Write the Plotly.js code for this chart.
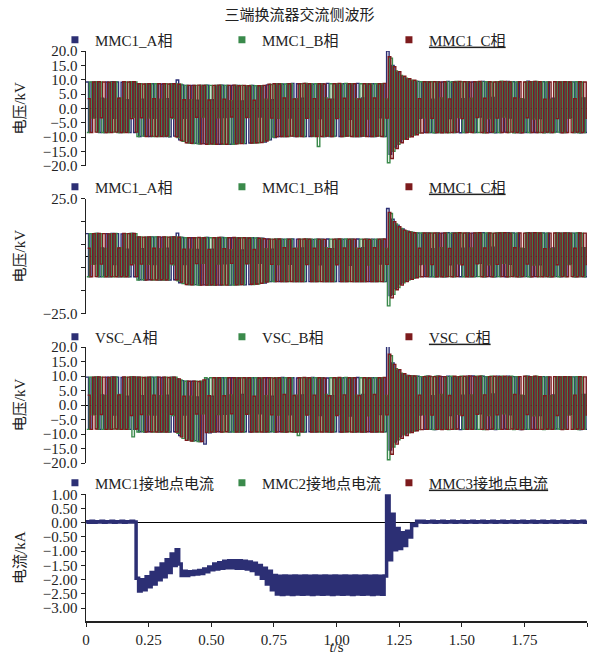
<!DOCTYPE html>
<html>
<head>
<meta charset="utf-8">
<script src="https://cdn.plot.ly/plotly-3.0.1.min.js"></script>
<style>html,body{margin:0;padding:0;background:#fff;}#chart{width:599px;height:655px;}</style>
</head>
<body>
<div id="chart"></div>
<script>
// ---------------- data ----------------
const chartTitle = '三端换流器交流侧波形';
const voltTitle = '电压/kV';
const currTitle = '电流/kA';
const timeTitle = '<i>t</i>/s';

const namesP1 = ['MMC1_A相', 'MMC1_B相', 'MMC1_C相'];
const namesP2 = ['MMC1_A相', 'MMC1_B相', 'MMC1_C相'];
const namesP3 = ['VSC_A相', 'VSC_B相', 'VSC_C相'];
const namesP4 = ['MMC1接地点电流', 'MMC2接地点电流', 'MMC3接地点电流'];

const xTickVals = [0, 0.25, 0.5, 0.75, 1.0, 1.25, 1.5, 1.75, 2.0];
const xTickText = ['0', '0.25', '0.50', '0.75', '1.00', '1.25', '1.50', '1.75', '2.00'];
const vTickVals20 = [-20, -15, -10, -5, 0, 5, 10, 15, 20];
const vTickText20 = ['−20.0', '−15.0', '−10.0', '−5.0', '0.0', '5.0', '10.0', '15.0', '20.0'];
const vTickVals25 = [-25, -15, -5, 5, 15, 25];
const vTickText25 = ['−25.0', '', '', '', '', '25.0'];
const iTickVals = [-3, -2.5, -2, -1.5, -1, -0.5, 0, 0.5, 1];
const iTickText = ['−3.00', '−2.50', '−2.00', '−1.50', '−1.00', '−0.50', '0.00', '0.50', '1.00'];

// sampled phase voltages (kV), one value every 0.01 s, phases staggered
const p1A = [9.2,-8.3,9.1,-3.2,9.3,-8.4,3.5,-8.4,9.2,-8.3,
  9.3,-3.5,9.2,-8.4,9.1,-8.3,3.0,-8.4,9.3,-8.4,
  8.6,-9.8,3.2,-9.7,8.5,-9.8,8.6,-3.5,8.6,-9.7,
  8.5,-9.8,3.4,-9.9,8.6,-9.7,9.9,-11.0,8.2,-3.5,
  8.0,-12.0,8.0,-12.2,2.8,-12.4,8.0,-12.3,8.1,-12.4,
  3.0,-12.5,8.0,-12.5,8.1,-3.2,8.0,-12.5,8.0,-12.4,
  8.0,-12.2,2.6,-12.3,7.9,-12.1,8.0,-12.0,7.9,-3.0,
  7.9,-11.8,8.2,-11.0,3.0,-10.2,8.6,-9.8,8.5,-9.8,
  8.6,-3.4,8.7,-9.8,8.6,-9.7,3.5,-9.8,8.6,-9.8,
  8.5,-9.7,8.6,-3.6,8.6,-9.8,8.7,-9.8,3.2,-9.7,
  8.6,-9.8,8.6,-9.7,8.5,-3.8,8.6,-9.8,8.7,-9.8,
  3.6,-9.7,8.6,-9.8,8.6,-9.8,8.5,-3.3,8.6,-9.8,
  20.0,-16.0,15.0,-13.5,12.5,-11.5,11.0,-10.5,10.2,-9.6,
  9.6,-9.0,9.4,-3.5,9.3,-8.4,9.3,-8.4,3.2,-8.5,
  9.3,-8.4,9.2,-8.4,9.4,-3.6,9.3,-8.4,9.2,-8.5,
  3.4,-8.4,9.3,-8.3,9.2,-8.4,9.3,-3.0,9.4,-8.4,
  9.2,-8.4,3.8,-8.5,9.3,-8.4,9.2,-8.3,9.4,-3.4,
  9.3,-8.4,9.2,-8.5,3.2,-8.4,9.5,-8.4,9.3,-8.4,
  9.2,-3.6,9.3,-8.4,9.2,-8.4,3.5,-8.3,9.3,-8.4,
  9.2,-8.4,9.3,-3.2,9.2,-8.4,9.3,-8.5,3.6,-8.4,
  9.2];
const p1B = [-8.4,9.2,-3.4,9.3,-8.3,9.2,-8.4,3.3,-8.4,9.1,
  -8.3,9.3,-8.4,3.6,-8.4,9.2,-8.3,9.3,-3.1,9.2,
  -9.8,8.6,-9.7,8.5,-3.4,8.6,-9.8,8.6,-9.8,3.2,
  -9.7,8.6,-9.8,8.5,-3.6,8.6,-10.2,8.4,-11.5,8.0,
  -12.0,3.0,-12.3,8.0,-12.4,8.0,-3.0,8.1,-12.5,8.0,
  -12.5,8.0,-3.3,8.1,-12.5,8.0,-12.4,2.7,-12.5,8.0,
  -12.3,8.0,-12.2,7.9,-3.1,8.0,-12.1,7.9,-12.0,7.8,
  -11.6,3.2,-11.0,8.3,-10.0,8.6,-3.5,8.6,-9.8,8.5,
  -9.8,8.6,-9.7,3.4,-9.8,8.6,-9.8,8.7,-3.3,8.6,
  -9.8,8.6,-13.3,8.5,-9.8,3.6,-9.7,8.6,-9.8,8.6,
  -3.2,8.6,-9.8,8.7,-9.7,8.6,-9.8,3.4,-9.8,8.6,
  -9.7,8.6,-3.7,8.5,-9.8,8.6,-9.7,8.6,-9.8,3.3,
  -19.0,17.5,-15.0,13.0,-12.5,11.5,-10.8,10.5,-10.0,9.8,
  -9.3,9.5,-8.6,9.3,-3.3,9.2,-8.4,9.3,-8.5,9.2,
  -8.4,3.6,-8.4,9.3,-8.5,9.2,-8.4,9.4,-3.2,9.3,
  -8.4,9.2,-8.3,3.5,-8.4,9.3,-8.4,9.2,-8.5,9.3,
  -3.6,9.2,-8.4,9.3,-8.4,9.5,-3.0,9.2,-8.4,9.3,
  -8.5,9.2,-8.4,3.4,-8.3,9.3,-8.4,9.2,-3.7,9.4,
  -8.4,9.3,-8.5,9.2,-8.4,3.2,-8.4,9.3,-8.3,9.2,
  -8.4,9.3,-3.5,9.2,-8.4,9.3,-8.5,9.2,-8.4,3.6,
  -8.4];
const p1C = [3.4,-8.4,9.2,-8.3,9.3,-3.3,9.2,-8.4,9.1,-8.4,
  9.2,-8.3,3.5,-8.4,9.3,-8.4,9.2,-3.6,9.3,-8.3,
  8.6,-3.3,8.5,-9.8,8.6,-9.7,3.4,-9.8,8.6,-9.8,
  8.6,-9.7,8.5,-3.2,8.6,-9.9,8.4,-11.2,3.0,-12.0,
  8.0,-12.2,8.0,-3.1,8.1,-12.4,8.0,-12.5,2.9,-12.4,
  8.0,-12.5,8.1,-12.4,3.2,-12.5,8.0,-3.0,8.1,-12.4,
  7.9,-12.3,8.0,-3.2,7.9,-12.1,2.8,-12.0,7.9,-11.9,
  8.0,-11.4,8.4,-3.4,8.6,-9.9,8.5,-9.8,3.6,-9.8,
  8.6,-9.7,3.3,-9.8,8.6,-9.8,8.7,-3.5,8.6,-9.7,
  3.4,-9.8,8.6,-9.8,8.5,-9.7,3.2,-9.8,8.6,-3.6,
  8.7,-9.8,3.5,-9.7,8.6,-9.8,8.6,-9.8,3.3,-9.7,
  8.6,-9.8,8.5,-9.8,3.6,-9.7,8.6,-9.8,8.7,-3.4,
  18.0,-17.5,14.5,-14.0,12.8,-12.0,11.2,-10.8,10.3,-9.9,
  9.8,-9.2,3.4,-8.6,9.3,-8.4,9.2,-3.5,9.3,-8.4,
  9.2,-8.5,9.3,-8.4,3.3,-8.4,9.2,-8.3,9.4,-3.6,
  9.3,-8.4,9.2,-8.4,9.3,-3.2,9.4,-8.4,3.5,-8.5,
  9.3,-8.3,9.2,-3.4,9.3,-8.4,9.4,-8.4,9.2,-8.3,
  3.6,-8.4,9.3,-8.5,9.2,-3.3,9.3,-8.4,9.4,-8.4,
  9.3,-8.4,3.2,-8.3,9.2,-8.4,9.3,-3.6,9.2,-8.5,
  9.3,-8.4,9.2,-8.4,3.4,-8.3,9.3,-8.4,9.2,-3.5,
  9.3];

const p2A = [9.8,-8.8,9.7,-3.3,9.9,-8.9,3.6,-8.8,9.8,-8.9,
  9.9,-3.6,9.8,-8.9,9.7,-8.8,3.1,-8.9,9.9,-8.9,
  8.4,-10.2,3.3,-10.3,8.3,-10.2,8.4,-3.6,8.4,-10.3,
  8.3,-10.2,3.5,-10.3,8.4,-10.2,10.0,-11.5,8.1,-3.6,
  8.0,-12.2,8.0,-12.3,2.9,-12.5,8.0,-12.4,8.1,-12.5,
  3.1,-12.5,8.0,-12.5,8.1,-3.3,8.0,-12.5,8.0,-12.4,
  8.0,-12.3,2.7,-12.4,7.9,-12.2,8.0,-12.0,7.9,-3.1,
  7.8,-11.6,7.5,-11.0,3.1,-11.0,7.4,-10.9,7.4,-11.0,
  7.4,-3.5,7.5,-11.0,7.4,-10.9,3.6,-11.0,7.4,-11.0,
  7.3,-10.9,7.4,-3.7,7.4,-11.0,7.5,-11.0,3.3,-10.9,
  7.4,-11.0,7.4,-10.9,7.3,-3.9,7.4,-11.0,7.5,-11.0,
  3.7,-10.9,7.4,-11.0,7.4,-11.0,7.3,-3.4,7.4,-11.0,
  20.7,-17.0,16.0,-14.0,13.5,-12.0,11.8,-10.8,10.8,-9.8,
  10.3,-9.2,10.1,-3.6,10.0,-8.8,10.1,-8.9,3.3,-8.9,
  10.1,-8.8,10.0,-8.9,10.2,-3.7,10.1,-8.8,10.0,-8.9,
  3.5,-8.8,10.1,-8.9,10.0,-8.8,10.1,-3.1,10.2,-8.9,
  10.0,-8.8,3.9,-8.9,10.1,-8.8,10.0,-8.9,10.2,-3.5,
  10.1,-8.8,10.0,-8.9,3.3,-8.8,10.2,-8.9,10.1,-8.8,
  10.0,-3.7,10.1,-8.8,10.0,-8.9,3.6,-8.8,10.1,-8.9,
  10.0,-8.8,10.1,-3.3,10.0,-8.9,10.1,-8.8,3.7,-8.9,
  10.0];
const p2B = [-8.9,9.8,-3.5,9.9,-8.8,9.8,-8.9,3.4,-8.8,9.7,
  -8.9,9.9,-8.8,3.7,-8.9,9.8,-8.8,9.9,-3.2,9.8,
  -10.3,8.4,-10.2,8.3,-3.5,8.4,-10.3,8.4,-10.2,3.3,
  -10.3,8.4,-10.2,8.3,-3.7,8.4,-10.6,8.2,-11.8,8.0,
  -12.2,3.1,-12.4,8.0,-12.5,8.0,-3.1,8.1,-12.5,8.0,
  -12.5,8.0,-3.4,8.1,-12.5,8.0,-12.4,2.8,-12.5,8.0,
  -12.4,8.0,-12.3,7.9,-3.2,8.0,-12.2,7.9,-12.0,7.7,
  -11.4,3.3,-11.0,7.4,-10.9,7.5,-3.6,7.4,-11.0,7.4,
  -11.0,7.4,-10.9,3.5,-11.0,7.4,-11.0,7.5,-3.4,7.4,
  -11.0,7.4,-10.9,7.3,-11.0,3.7,-10.9,7.4,-11.0,7.4,
  -3.3,7.4,-11.0,7.5,-10.9,7.4,-11.0,3.5,-11.0,7.4,
  -10.9,7.4,-3.8,7.3,-11.0,7.4,-10.9,7.4,-11.0,3.4,
  -21.5,18.5,-16.5,14.0,-13.5,12.0,-11.5,11.0,-10.3,10.5,
  -9.5,10.2,-8.9,10.1,-3.4,10.0,-8.8,10.1,-8.9,10.0,
  -8.8,3.7,-8.9,10.1,-8.8,10.0,-8.9,10.2,-3.3,10.1,
  -8.9,10.0,-8.8,3.6,-8.9,10.1,-8.8,10.0,-8.9,10.1,
  -3.7,10.0,-8.9,10.1,-8.8,10.2,-3.1,10.0,-8.9,10.1,
  -8.8,10.0,-8.9,3.5,-8.8,10.1,-8.9,10.0,-3.8,10.2,
  -8.9,10.1,-8.8,10.0,-8.9,3.3,-8.8,10.1,-8.9,10.0,
  -8.8,10.1,-3.6,10.0,-8.9,10.1,-8.8,10.0,-8.9,3.7,
  -8.8];
const p2C = [3.5,-8.9,9.8,-8.8,9.9,-3.4,9.8,-8.9,9.7,-8.8,
  9.8,-8.9,3.6,-8.8,9.9,-8.9,9.8,-3.7,9.9,-8.8,
  8.4,-3.4,8.3,-10.3,8.4,-10.2,3.5,-10.3,8.4,-10.2,
  8.4,-10.3,8.3,-3.3,8.4,-10.2,8.2,-11.2,3.1,-12.2,
  8.0,-12.4,8.0,-3.2,8.1,-12.5,8.0,-12.5,3.0,-12.4,
  8.0,-12.5,8.1,-12.4,3.3,-12.5,8.0,-3.1,8.1,-12.4,
  7.9,-12.3,8.0,-3.3,7.9,-12.1,2.9,-12.0,7.8,-11.7,
  7.6,-11.2,7.4,-3.5,7.4,-11.0,7.5,-10.9,3.7,-11.0,
  7.4,-10.9,3.4,-11.0,7.4,-11.0,7.5,-3.6,7.4,-10.9,
  3.5,-11.0,7.4,-11.0,7.3,-10.9,3.3,-11.0,7.4,-3.7,
  7.5,-11.0,3.6,-10.9,7.4,-11.0,7.4,-11.0,3.4,-10.9,
  7.4,-11.0,7.3,-11.0,3.7,-10.9,7.4,-11.0,7.5,-3.5,
  19.0,-18.0,15.0,-14.5,12.8,-12.5,11.3,-11.0,10.5,-10.0,
  10.2,-9.3,3.5,-8.9,10.1,-8.8,10.0,-3.6,10.1,-8.9,
  10.0,-8.9,10.1,-8.8,3.4,-8.9,10.0,-8.8,10.2,-3.7,
  10.1,-8.9,10.0,-8.8,10.1,-3.3,10.2,-8.9,3.6,-8.8,
  10.1,-8.9,10.0,-3.5,10.1,-8.8,10.2,-8.9,10.0,-8.8,
  3.7,-8.9,10.1,-8.8,10.0,-3.4,10.1,-8.9,10.2,-8.8,
  10.1,-8.9,3.3,-8.8,10.0,-8.9,10.1,-3.7,10.0,-8.8,
  10.1,-8.9,10.0,-8.8,3.5,-8.9,10.1,-8.8,10.0,-3.6,
  10.1];

const p3A = [9.6,-8.3,9.5,-3.2,9.7,-8.4,3.5,-8.4,9.6,-8.3,
  9.7,-3.5,9.6,-8.4,9.5,-8.3,3.0,-8.4,9.7,-8.4,
  9.6,-9.2,3.2,-9.3,9.5,-9.2,9.6,-3.5,9.6,-9.3,
  9.5,-9.2,3.4,-9.3,9.6,-9.2,9.0,-10.5,8.4,-3.5,
  8.2,-12.0,8.2,-12.3,2.8,-12.6,8.1,-13.5,9.0,-9.6,
  3.0,-9.3,9.4,-9.2,9.4,-3.2,9.3,-9.3,9.4,-9.2,
  9.4,-9.3,3.6,-9.2,9.3,-9.3,9.4,-9.2,9.4,-3.0,
  9.3,-9.3,9.4,-9.2,3.0,-9.3,9.4,-9.2,9.5,-9.3,
  9.4,-3.4,9.4,-9.3,9.3,-9.2,3.5,-9.3,9.4,-9.2,
  9.5,-9.3,9.4,-3.6,9.4,-9.2,9.3,-9.3,3.2,-9.2,
  9.4,-9.3,9.4,-9.2,9.3,-3.8,9.4,-9.3,9.5,-9.2,
  3.6,-9.3,9.4,-9.2,9.4,-9.3,9.3,-3.3,9.4,-9.2,
  20.2,-15.5,14.5,-12.8,12.0,-11.0,10.8,-10.0,10.2,-9.3,
  10.0,-8.8,9.9,-3.5,9.8,-8.4,9.9,-8.4,3.2,-8.5,
  9.9,-8.4,9.8,-8.4,9.9,-3.6,9.8,-8.4,9.7,-8.5,
  3.4,-8.4,9.9,-8.3,10.0,-8.4,9.8,-3.0,9.9,-8.4,
  9.7,-8.4,3.8,-8.5,9.9,-8.4,9.8,-8.3,9.9,-3.4,
  9.8,-8.4,9.7,-8.5,3.2,-8.4,9.9,-8.4,9.8,-8.4,
  9.7,-3.6,9.8,-8.4,9.7,-8.4,3.5,-8.3,9.8,-8.4,
  9.7,-8.4,9.8,-3.2,9.7,-8.4,9.8,-8.5,3.6,-8.4,
  9.7];
const p3B = [-8.4,9.6,-3.4,9.7,-8.3,9.6,-8.4,3.3,-8.4,9.5,
  -8.3,9.7,-8.4,3.6,-8.4,9.6,-8.3,9.7,-11.0,9.6,
  -9.3,9.6,-9.2,9.5,-3.4,9.6,-9.3,9.6,-9.2,3.2,
  -9.3,9.6,-9.2,9.5,-3.6,9.6,-9.8,8.6,-11.5,8.2,
  -12.0,3.0,-12.4,8.2,-12.6,8.2,-3.0,9.4,-9.3,9.4,
  -9.2,9.4,-3.3,9.3,-9.3,9.4,-9.2,3.5,-9.3,9.4,
  -9.2,9.4,-9.3,9.3,-3.1,9.4,-9.2,9.4,-9.3,9.3,
  -9.2,3.2,-9.3,9.4,-9.2,9.4,-3.5,9.3,-9.3,9.4,
  -9.2,9.4,-9.3,3.4,-10.5,9.4,-9.3,9.3,-3.3,9.4,
  -9.2,9.4,-9.3,9.3,-9.2,3.6,-9.3,9.4,-9.2,9.4,
  -3.2,9.4,-9.3,9.5,-9.2,9.4,-9.3,3.4,-9.2,9.4,
  -9.3,9.4,-3.7,9.3,-9.2,9.4,-9.3,9.4,-9.2,3.3,
  -18.9,17.0,-14.5,12.5,-12.0,11.0,-10.3,10.2,-9.6,10.0,
  -9.0,9.9,-8.5,9.8,-3.3,9.9,-8.4,9.8,-8.5,9.9,
  -8.4,3.6,-8.4,9.8,-8.5,9.9,-8.4,9.8,-3.2,9.9,
  -8.4,9.8,-8.3,3.5,-8.4,9.9,-8.4,10.0,-8.5,9.8,
  -3.6,9.9,-8.4,9.8,-8.4,9.9,-3.0,9.8,-8.4,9.9,
  -8.5,9.8,-8.4,3.4,-8.3,9.9,-8.4,9.8,-3.7,9.9,
  -8.4,9.8,-8.5,9.7,-8.4,3.2,-8.4,9.8,-8.3,9.7,
  -8.4,9.8,-3.5,9.7,-8.4,9.8,-8.5,9.7,-8.4,3.6,
  -8.4];
const p3C = [3.4,-8.4,9.6,-8.3,9.7,-3.3,9.6,-8.4,9.5,-8.4,
  9.6,-8.3,3.5,-8.4,9.7,-8.4,9.6,-3.6,9.7,-8.3,
  9.6,-3.3,9.5,-9.3,9.6,-9.2,3.4,-9.3,9.6,-9.2,
  9.6,-9.3,9.5,-3.2,9.6,-9.3,9.0,-11.0,3.0,-12.2,
  8.2,-12.4,8.2,-3.1,8.1,-12.6,8.6,-9.5,3.2,-9.3,
  9.4,-9.2,9.4,-9.3,3.2,-9.2,9.4,-3.0,9.4,-9.3,
  9.3,-9.2,9.4,-3.2,9.4,-9.3,3.0,-9.2,9.3,-9.3,
  9.4,-9.2,9.4,-3.4,9.3,-9.3,9.4,-9.2,3.6,-9.3,
  9.4,-9.2,3.3,-9.3,9.4,-9.2,9.5,-3.5,9.4,-9.3,
  3.4,-9.2,9.4,-9.3,9.3,-9.2,3.2,-9.3,9.4,-3.6,
  9.5,-9.3,3.5,-9.2,9.4,-9.3,9.4,-9.2,3.3,-9.3,
  9.4,-9.2,9.3,-9.3,3.6,-9.2,9.4,-9.3,9.5,-3.4,
  17.5,-17.0,14.0,-13.5,12.2,-11.5,10.8,-10.5,10.1,-9.5,
  10.0,-8.9,3.4,-8.5,9.8,-8.4,9.9,-3.5,9.8,-8.4,
  9.9,-8.5,9.8,-8.4,3.3,-8.4,9.9,-8.3,9.8,-3.6,
  9.9,-8.4,10.0,-8.4,9.8,-3.2,9.9,-8.4,3.5,-8.5,
  9.8,-8.3,9.9,-3.4,9.8,-8.4,9.9,-8.4,9.7,-8.3,
  3.6,-8.4,9.8,-8.5,9.9,-3.3,9.8,-8.4,9.9,-8.4,
  9.8,-8.4,3.2,-8.3,9.7,-8.4,9.8,-3.6,9.7,-8.5,
  9.8,-8.4,9.7,-8.4,3.4,-8.3,9.8,-8.4,9.7,-3.5,
  9.8];

// MMC1 grounding-point current (kA), one value every 0.01 s
const i1 = [0.04,0.02,0.05,0.02,0.04,0.03,0.05,0.02,0.04,0.03,
  0.05,0.02,0.04,0.03,0.05,0.02,0.04,0.03,0.05,0.03,
  -1.95,-2.40,-2.00,-2.35,-1.90,-2.25,-1.75,-2.15,-1.60,-2.00,
  -1.45,-1.90,-1.30,-1.75,-1.10,-1.50,-0.95,-1.45,-1.85,-1.70,
  -1.85,-1.72,-1.82,-1.70,-1.80,-1.68,-1.78,-1.62,-1.72,-1.55,
  -1.65,-1.45,-1.62,-1.40,-1.60,-1.35,-1.58,-1.33,-1.58,-1.33,
  -1.60,-1.33,-1.60,-1.35,-1.62,-1.38,-1.68,-1.42,-1.80,-1.50,
  -1.95,-1.60,-2.15,-1.70,-2.35,-1.85,-2.50,-1.88,-2.52,-1.87,
  -2.50,-1.88,-2.52,-1.87,-2.50,-1.88,-2.51,-1.87,-2.50,-1.88,
  -2.52,-1.87,-2.50,-1.88,-2.51,-1.87,-2.50,-1.88,-2.52,-1.87,
  -2.50,-1.88,-2.51,-1.87,-2.50,-1.88,-2.52,-1.87,-2.50,-1.88,
  -2.51,-1.87,-2.50,-1.88,-2.52,-1.87,-2.50,-1.88,-2.51,-1.87,
  1.00,-1.30,0.30,-0.95,-0.20,-0.90,-0.35,-0.80,-0.30,-0.50,
  -0.05,-0.10,0.05,0.03,0.05,0.02,0.04,0.03,0.05,0.02,
  0.04,0.03,0.05,0.02,0.04,0.03,0.05,0.02,0.04,0.03,
  0.05,0.02,0.04,0.03,0.05,0.02,0.04,0.03,0.05,0.02,
  0.04,0.03,0.05,0.02,0.04,0.03,0.05,0.02,0.04,0.03,
  0.05,0.02,0.04,0.03,0.05,0.02,0.04,0.03,0.05,0.02,
  0.04,0.03,0.05,0.02,0.04,0.03,0.05,0.02,0.04,0.03,
  0.05,0.02,0.04,0.03,0.05,0.02,0.04,0.03,0.05,0.02,
  0.04];

// sampling grids (s)
const vStep = 0.01, iStep = 0.01;
const phaseShift = [0, vStep / 3, 2 * vStep / 3];
// ------------------------------------------------------------------

const FONT = 'Liberation Serif, Times New Roman, Noto Sans CJK SC, serif';
const colors = ['#2c2f74', '#3a8a4b', '#7d1b1d'];

function grid(n, step, shift) {
  const t = [];
  for (let k = 0; k < n; k++) t.push(+(k * step + shift).toFixed(5));
  return t;
}
function legendName(nm, j) {
  return j === 2 ? '<span style="text-decoration:underline">' + nm + '</span>' : nm;
}

const traces = [];
function addPanel(series, names, yax, leg) {
  series.forEach((vals, j) => {
    traces.push({
      type: 'scatter', mode: 'lines', name: names[j],
      x: grid(vals.length, vStep, phaseShift[j]), y: vals,
      xaxis: 'x', yaxis: yax, showlegend: false,
      line: {color: colors[j], width: 1.4, shape: 'hv'}
    });
  });
  names.forEach((nm, j) => {
    traces.push({
      type: 'scatter', mode: 'markers', x: [null], y: [null],
      name: legendName(nm, j),
      xaxis: 'x', yaxis: yax, legend: leg, showlegend: true,
      marker: {symbol: 'square', size: 7, color: colors[j]}
    });
  });
}
addPanel([p1A, p1B, p1C], namesP1, 'y', 'legend');
addPanel([p2A, p2B, p2C], namesP2, 'y2', 'legend2');
addPanel([p3A, p3B, p3C], namesP3, 'y3', 'legend3');

traces.push({
  type: 'scatter', mode: 'lines', name: namesP4[0],
  x: grid(i1.length, iStep, 0), y: i1, xaxis: 'x', yaxis: 'y4',
  showlegend: false, line: {color: colors[0], width: 3.5, shape: 'hv'}
});
namesP4.forEach((nm, j) => {
  traces.push({
    type: 'scatter', mode: 'markers', x: [null], y: [null],
    name: legendName(nm, j),
    xaxis: 'x', yaxis: 'y4', legend: 'legend4', showlegend: true,
    marker: {symbol: 'square', size: 7, color: colors[j]}
  });
});

const tickFont = {family: FONT, size: 15, color: '#222'};
function yAxis(domain, range, tv, tt, title) {
  return {
    domain: domain, range: range, anchor: 'x', fixedrange: true,
    tickmode: 'array', tickvals: tv, ticktext: tt, tickfont: tickFont,
    ticks: 'outside', ticklen: 4, tickcolor: '#222', tickwidth: 1,
    showline: true, linecolor: '#222', linewidth: 1.5,
    showgrid: false, zeroline: true, zerolinecolor: '#000', zerolinewidth: 1,
    title: {text: title, font: {family: FONT, size: 15, color: '#222'}, standoff: 13}
  };
}
// legend centred over its three fixed-width entries (paper coordinates)
function legendAt(yPaper) {
  return {
    orientation: 'h', x: 0.438, xanchor: 'center', y: yPaper, yanchor: 'middle',
    entrywidth: 122, entrywidthmode: 'pixels', bgcolor: 'rgba(0,0,0,0)',
    font: {family: FONT, size: 15, color: '#222'}, itemclick: false
  };
}

const layout = {
  width: 599, height: 655,
  margin: {l: 86, r: 12, t: 51, b: 34},
  paper_bgcolor: '#fff', plot_bgcolor: '#fff',
  font: {family: FONT, size: 15, color: '#222'},
  title: {text: chartTitle, font: {family: FONT, size: 15, color: '#222'},
          x: 0.5, xref: 'container', xanchor: 'center',
          y: 1 - 15 / 655, yref: 'container', yanchor: 'middle'},
  xaxis: {
    domain: [0, 1], range: [0, 2], anchor: 'y4', fixedrange: true,
    tickmode: 'array', tickvals: xTickVals, ticktext: xTickText, tickfont: tickFont,
    ticks: 'outside', ticklen: 4, tickcolor: '#222',
    showline: true, linecolor: '#222', linewidth: 1.5, showgrid: false, zeroline: false,
    title: {text: timeTitle, font: {family: FONT, size: 15, color: '#222'}, standoff: 0}
  },
  yaxis: yAxis([0.7988, 1.0], [-20, 20], vTickVals20, vTickText20, voltTitle),
  yaxis2: yAxis([0.5386, 0.7412], [-25, 25], vTickVals25, vTickText25, voltTitle),
  yaxis3: yAxis([0.2772, 0.4807], [-20, 20], vTickVals20, vTickText20, voltTitle),
  yaxis4: yAxis([0, 0.2223], [-3.45, 1.0], iTickVals, iTickText, currTitle),
  legend: legendAt(1.0193),
  legend2: legendAt(0.7614),
  legend3: legendAt(0.4982),
  legend4: legendAt(0.2421),
  showlegend: true
};

Plotly.newPlot('chart', traces, layout, {staticPlot: true, displayModeBar: false});
</script>
</body>
</html>
